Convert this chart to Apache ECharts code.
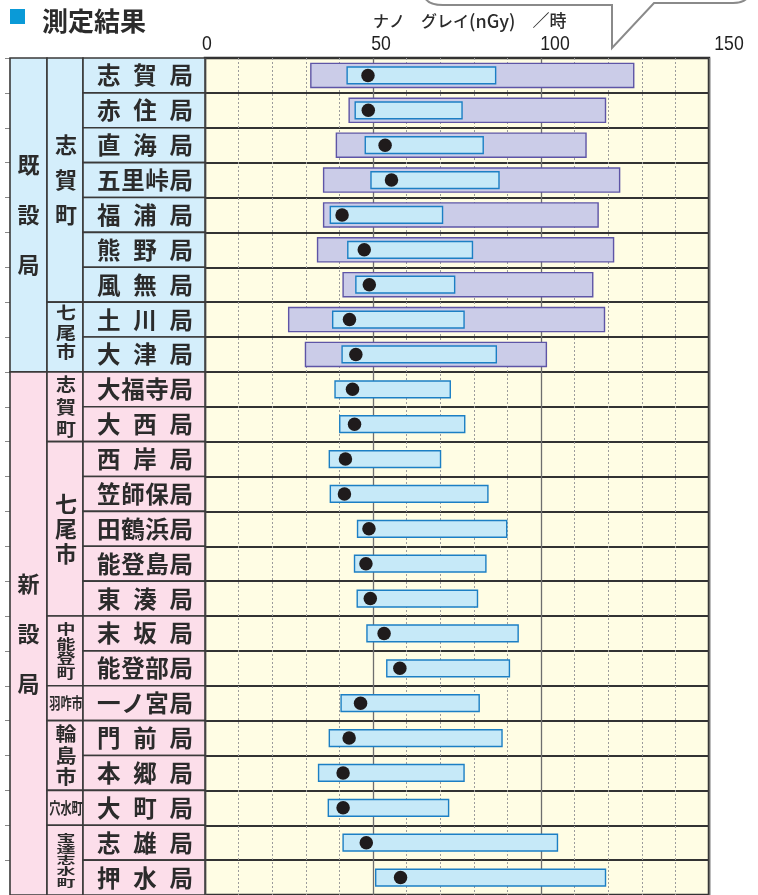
<!DOCTYPE html>
<html><head><meta charset="utf-8">
<script src="https://cdn.jsdelivr.net/npm/echarts@6/dist/echarts.min.js"></script>
<style>html,body{margin:0;padding:0;background:#fff}#c{width:758px;height:895px}</style>
</head><body><div id="c"></div>
<script>
// ---- data ----
const stations = ['志賀局','赤住局','直海局','五里峠局','福浦局','熊野局','風無局','土川局','大津局',
  '大福寺局','大西局','西岸局','笠師保局','田鶴浜局','能登島局','東湊局','末坂局','能登部局','一ノ宮局','門前局','本郷局','大町局','志雄局','押水局'];
// past range (existing stations only)
const pastMin = [31.5,42.9,39.1,35.3,35.3,33.5,41.1,24.9,29.9];
const pastMax = [127.6,119.2,113.4,123.4,117.0,121.6,115.4,118.9,101.6];
// this period: min / max / mean
const curMin = [42.3,44.7,47.7,49.4,37.3,42.5,44.9,38.0,40.8, 38.7,40.1,37.0,37.3,45.4,44.5,45.3,48.2,54.1,40.5,37.0,33.8,36.7,41.1,50.8];
const curMax = [86.5,76.5,82.8,87.5,70.7,79.6,74.3,77.1,86.7, 73.0,77.3,70.1,84.2,89.8,83.6,81.1,93.2,90.6,81.6,88.4,77.1,72.5,104.9,119.2];
const curAvg = [48.5,48.6,53.6,55.5,40.8,47.4,48.9,43.0,44.9, 43.9,44.5,41.8,41.5,48.8,47.9,49.2,53.3,58.0,46.3,42.9,41.1,41.1,48.0,58.2];
const sections = [['既設局',0,8],['新設局',9,23]];
const areas = [['志賀町',0,6],['七尾市',7,8],['志賀町',9,10],['七尾市',11,15],['中能登町',16,17],['羽咋市',18,18],['輪島市',19,20],['穴水町',21,21],['宝達志水町',22,23]];
const xTicks = [0,50,100,150];
const titleText = '測定結果';
const unitParts = ['ナノ　グレイ','(nGy)','　／時'];

// ---- styles (not data) ----
const areaStyle = [
  {dir:'v',size:22,gap:35,sy:1},
  {dir:'v',size:20,gap:19.5,sy:0.88,dy:-5},
  {dir:'v',size:20,gap:22.5,sy:0.9},
  {dir:'v',size:22,gap:25,sy:1},
  {dir:'v',size:19,gap:14.7,sy:0.7},
  {dir:'h',size:16,sx:0.7},
  {dir:'v',size:21,gap:21.7,sy:0.9},
  {dir:'h',size:16,sx:0.7},
  {dir:'v',size:19,gap:11.3,sy:0.56}
];
const JP = '"Noto Sans CJK JP"';
const TXT = '#2b2b2b';
const BLUE_BG = '#d4eefb', PINK_BG = '#fcdeea', CELL_LINE = '#3a3a3a';
const TOP = 58, H = 838;

const chart = echarts.init(document.getElementById('c'), null, {renderer:'canvas'});

function cellRect(params, api, start, end) {
  const band = api.size([0,1])[1];
  const y0 = api.coord([0,start])[1] - band/2;
  const y1 = api.coord([0,end])[1] + band/2;
  const cs = params.coordSys;
  return {x: cs.x, y: y0, width: cs.width, height: y1 - y0};
}
function charEl(ch, x, y, size, sx, sy) {
  return {type:'text', x:x, y:y, scaleX:sx||1, scaleY:sy||1,
    style:{text:ch, fill:TXT, fontFamily:JP, fontWeight:'bold', fontSize:size, align:'center', verticalAlign:'middle'}};
}
function bgRect(r, start) {
  return {type:'rect', shape:r, style:{fill: start < 9 ? BLUE_BG : PINK_BG, stroke:CELL_LINE, lineWidth:1.6}};
}

const idx = stations.map((s,i)=>i);
const bubbleStyle = {fill:'none', stroke:'#8a8a8a', lineWidth:2};

const option = {
  animation:false,
  backgroundColor:'#fff',
  grid:[
    {left:205, top:TOP, width:504, height:H, show:true, backgroundColor:'#fffde4', borderColor:'#2e2e2e', borderWidth:2.5},
    {left:10, top:TOP, width:37, height:H},
    {left:47, top:TOP, width:36, height:H},
    {left:83, top:TOP, width:122, height:H},
    {left:207, top:43.5, width:522, height:1}
  ],
  xAxis:[
    {gridIndex:0, type:'value', min:0, max:150, interval:10, axisLabel:{show:false}, axisTick:{show:false}, axisLine:{show:false},
      splitLine:{show:true, lineStyle:{color:'#9c9c9c', width:1, type:[2,2]}}},
    {gridIndex:0, type:'value', min:0, max:150, interval:50, axisLabel:{show:false}, axisTick:{show:false}, axisLine:{show:false},
      splitLine:{show:true, lineStyle:{color:'#6e6e6e', width:1.3}}},
    {gridIndex:1, type:'value', min:0, max:1, show:false},
    {gridIndex:2, type:'value', min:0, max:1, show:false},
    {gridIndex:3, type:'value', min:0, max:1, show:false},
    {gridIndex:4, type:'value', min:0, max:150, interval:50, show:false}
  ],
  yAxis:[
    {gridIndex:0, type:'category', data:stations, inverse:true, axisLabel:{show:false}, axisTick:{show:false}, axisLine:{show:false},
      splitLine:{show:true, lineStyle:{color:'#333', width:2}}},
    {gridIndex:1, type:'category', data:idx, inverse:true, axisLabel:{show:false}, axisLine:{show:false},
      axisTick:{show:true, length:5, lineStyle:{color:'#888'}}},
    {gridIndex:2, type:'category', data:idx, inverse:true, show:false},
    {gridIndex:3, type:'category', data:idx, inverse:true, show:false},
    {gridIndex:4, type:'value', min:0, max:1, show:false}
  ],
  graphic:[
    {type:'rect', x:10, y:9, shape:{width:15, height:15}, style:{fill:'#0a9ad7'}},
    {type:'text', x:42, y:21, style:{text:titleText, fill:TXT, fontFamily:JP, fontWeight:'bold', fontSize:26, align:'left', verticalAlign:'middle'}},
    {type:'text', x:373, y:21, style:{
      text:'{a|'+unitParts[0]+'}{b|'+unitParts[1]+'}{c|'+unitParts[2]+'}',
      align:'left', verticalAlign:'middle',
      rich:{
        a:{fontFamily:JP, fontSize:16, fontWeight:500, fill:TXT, color:TXT},
        b:{fontFamily:JP, fontSize:18, fontWeight:500, fill:TXT, color:TXT},
        c:{fontFamily:JP, fontSize:17, fontWeight:500, fill:TXT, color:TXT}
      }}},
    {type:'bezierCurve', shape:{x1:425, y1:-2, x2:443, y2:5, cpx1:429, cpy1:5}, style:bubbleStyle},
    {type:'polyline', shape:{points:[[443,5],[612,5],[612,48],[654,3],[733,3]]}, style:bubbleStyle},
    {type:'bezierCurve', shape:{x1:733, y1:3, x2:748, y2:-3, cpx1:744, cpy1:3}, style:bubbleStyle}
  ],
  series:[
    {type:'custom', xAxisIndex:0, yAxisIndex:0, z:3,
      encode:{x:[0,1], y:2},
      data: pastMin.map((v,i)=>[v, pastMax[i], i]),
      renderItem:(params, api)=>{
        const i = api.value(2);
        const p0 = api.coord([api.value(0), i]), p1 = api.coord([api.value(1), i]);
        const h = api.size([0,1])[1]*0.69;
        return {type:'rect', shape:{x:p0[0], y:p0[1]-h/2, width:p1[0]-p0[0], height:h},
          style:{fill:'#cbcce8', stroke:'#5e55a6', lineWidth:1.4}};
      }},
    {type:'custom', xAxisIndex:0, yAxisIndex:0, z:4,
      encode:{x:[0,1], y:2},
      data: curMin.map((v,i)=>[v, curMax[i], i]),
      renderItem:(params, api)=>{
        const i = api.value(2);
        const p0 = api.coord([api.value(0), i]), p1 = api.coord([api.value(1), i]);
        const h = api.size([0,1])[1]*0.48;
        return {type:'rect', shape:{x:p0[0], y:p0[1]-h/2, width:p1[0]-p0[0], height:h},
          style:{fill:'#c6e9f8', stroke:'#1c7fc4', lineWidth:1.4}};
      }},
    {type:'scatter', xAxisIndex:0, yAxisIndex:0, z:5, symbol:'circle', symbolSize:13.5,
      itemStyle:{color:'#1f1b1c', opacity:1},
      data: curAvg.map((v,i)=>[v, i])},
    {type:'custom', xAxisIndex:5, yAxisIndex:4, z:5,
      data: xTicks.map(v=>[v, 0]),
      renderItem:(params, api)=>{
        const p = api.coord([api.value(0), 0]);
        return {type:'text', x:p[0], y:p[1], scaleX:0.84,
          style:{text:String(xTicks[params.dataIndex]), fill:'#1e1e1e', fontFamily:'"Liberation Sans","Noto Sans",sans-serif',
            fontWeight:'normal', fontSize:21, align:'center', verticalAlign:'middle'}};
      }},
    {type:'custom', xAxisIndex:2, yAxisIndex:1, z:3,
      data: sections.map(s=>[0, s[1]]),
      renderItem:(params, api)=>{
        const s = sections[params.dataIndex];
        const r = cellRect(params, api, s[1], s[2]);
        const chars = s[0].split('');
        const cx = r.x + r.width/2, cy = r.y + r.height/2;
        const gap = 50;
        const kids = [bgRect(r, s[1])];
        chars.forEach((ch,k)=>kids.push(charEl(ch, cx, cy + (k-(chars.length-1)/2)*gap, 22)));
        return {type:'group', children:kids};
      }},
    {type:'custom', xAxisIndex:3, yAxisIndex:2, z:3,
      data: areas.map(a=>[0, a[1]]),
      renderItem:(params, api)=>{
        const a = areas[params.dataIndex], st = areaStyle[params.dataIndex];
        const r = cellRect(params, api, a[1], a[2]);
        const cx = r.x + r.width/2 + 1, cy = r.y + r.height/2 + (st.dy||0);
        const kids = [bgRect(r, a[1])];
        if (st.dir === 'h') {
          kids.push(charEl(a[0], cx, cy, st.size, st.sx, 1));
        } else {
          const chars = a[0].split('');
          chars.forEach((ch,k)=>kids.push(charEl(ch, cx, cy + (k-(chars.length-1)/2)*st.gap, st.size, 1, st.sy)));
        }
        return {type:'group', children:kids};
      }},
    {type:'custom', xAxisIndex:4, yAxisIndex:3, z:3,
      data: stations.map((s,i)=>[0, i]),
      renderItem:(params, api)=>{
        const i = params.dataIndex;
        const r = cellRect(params, api, i, i);
        const chars = stations[i].split('');
        const fs = 23.5;
        const x0 = r.x + 14 + fs/2, x1 = r.x + r.width - 12 - fs/2;
        const cy = r.y + r.height/2;
        const kids = [bgRect(r, i)];
        chars.forEach((ch,k)=>{
          const x = chars.length > 1 ? x0 + (x1-x0)*k/(chars.length-1) : (x0+x1)/2;
          kids.push(charEl(ch, x, cy, fs));
        });
        return {type:'group', children:kids};
      }}
  ]
};
chart.setOption(option);
</script>
</body></html>
